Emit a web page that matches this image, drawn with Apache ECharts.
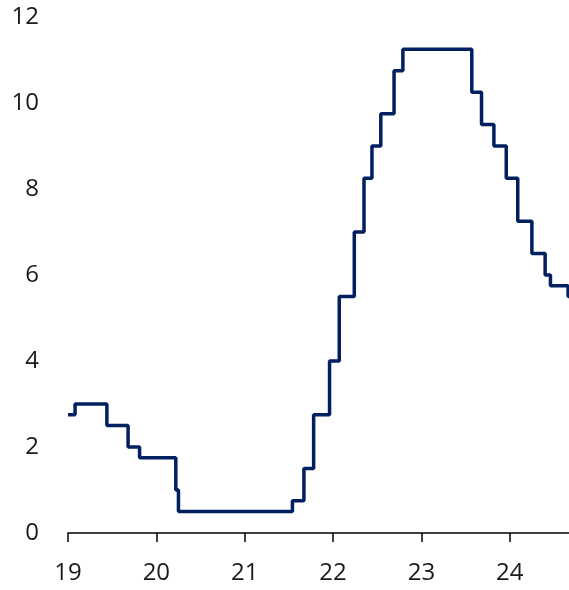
<!DOCTYPE html>
<html>
<head>
<meta charset="utf-8">
<script src="https://cdn.jsdelivr.net/npm/echarts@6/dist/echarts.min.js"></script>
<style>
html,body{margin:0;padding:0;background:#fff;}
#chart{width:569px;height:590px;}
</style>
</head>
<body>
<div id="chart"></div>
<script>
// Policy-rate change dates (fractional year, 19 = 2019) and new rate (%)
var changeYears = [19.00, 19.08, 19.44, 19.68, 19.81, 20.22, 20.25, 21.54, 21.67, 21.78, 21.96, 22.07, 22.24, 22.35, 22.44, 22.54, 22.69, 22.79, 23.57, 23.68, 23.82, 23.96, 24.09, 24.25, 24.40, 24.46, 24.66, 24.67];
var rates       = [2.75,  3.00,  2.50,  2.00,  1.75,  1.00,  0.50,  0.75,  1.50,  2.75,  4.00,  5.50,  7.00,  8.25,  9.00,  9.75, 10.75, 11.25, 10.25,  9.50,  9.00,  8.25,  7.25,  6.50,  6.00,  5.75,  5.50,  5.50];
var xTickValues = [19, 20, 21, 22, 23, 24];

var seriesData = changeYears.map(function (x, i) { return [x, rates[i]]; });

var chart = echarts.init(document.getElementById('chart'), null, {renderer: 'canvas'});
chart.setOption({
  animation: false,
  grid: {left: 68, right: 0, top: 17, bottom: 57, containLabel: false},
  xAxis: {
    type: 'value',
    min: 19,
    max: 24.67,
    axisLine: {show: true, lineStyle: {color: '#000', width: 1.5}},
    axisTick: {show: true, length: 9, lineStyle: {color: '#000', width: 1.5}, customValues: xTickValues},
    axisLabel: {
      customValues: xTickValues,
      margin: 28,
      fontFamily: 'Open Sans',
      fontSize: 24,
      color: '#1a1a1a'
    },
    splitLine: {show: false}
  },
  yAxis: {
    type: 'value',
    min: 0,
    max: 12,
    interval: 2,
    axisLine: {show: false},
    axisTick: {show: false},
    axisLabel: {
      margin: 29,
      fontFamily: 'Open Sans',
      fontSize: 24,
      color: '#1a1a1a'
    },
    splitLine: {show: false}
  },
  series: [{
    type: 'line',
    step: 'end',
    data: seriesData,
    showSymbol: false,
    clip: false,
    lineStyle: {color: '#002060', width: 3.5}
  }]
});
</script>
</body>
</html>
